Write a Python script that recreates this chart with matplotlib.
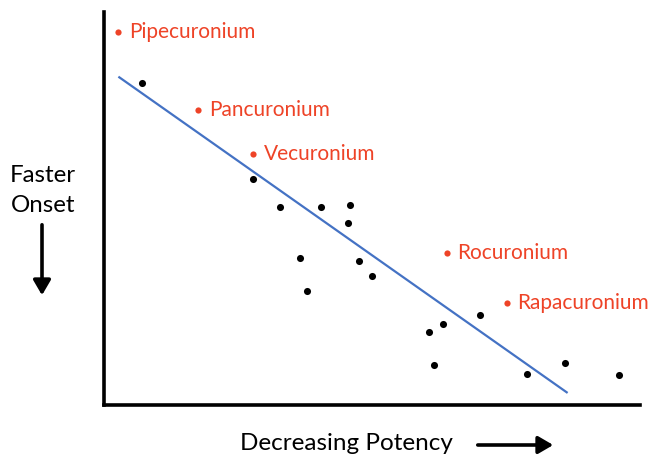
import matplotlib

matplotlib.use("Agg")

import matplotlib.pyplot as plt
from matplotlib.patches import FancyArrowPatch

# values (arbitrary units, origin at the axes corner)
other_x = [37.7, 149.3, 176, 216.5, 246, 243.7, 196, 255, 268, 203, 324.7, 338.7, 376, 330.3, 423, 461, 514.7]
other_y = [321.7, 226, 198.3, 198.3, 200, 182.3, 147.3, 143.7, 129.3, 114, 73, 80.7, 90, 40.3, 31, 42, 30]

drug_names = ["Pipecuronium", "Pancuronium", "Vecuronium", "Rocuronium", "Rapacuronium"]
drug_x = [14.3, 94.3, 149.3, 342.7, 402.7]
drug_y = [372.7, 295, 251, 152.3, 102.3]

trend_x = [15.3, 462.7]
trend_y = [327.7, 12.7]

RED = "#EE4327"
BLUE = "#4472C4"
FONT = "Lato"

fig = plt.figure(figsize=(6.52, 4.58), dpi=100)
ax = fig.add_axes([104 / 652, 53 / 458, 536 / 652, 393 / 458])
ax.set_xlim(0, 536)
ax.set_ylim(0, 393)

ax.plot(trend_x, trend_y, color=BLUE, linewidth=1.6, zorder=2)
ax.scatter(other_x, other_y, s=26, color="black", zorder=3, linewidths=0)
ax.scatter(drug_x, drug_y, s=20, color=RED, zorder=3, linewidths=0)
for name, x, y in zip(drug_names, drug_x, drug_y):
    ax.annotate(name, (x, y), xytext=(7.5, 0), textcoords="offset points",
                color=RED, fontsize=15, family=FONT, va="center", ha="left")

for side in ("top", "right"):
    ax.spines[side].set_visible(False)
for side in ("left", "bottom"):
    ax.spines[side].set_linewidth(2.6)
ax.set_xticks([])
ax.set_yticks([])

# axis captions with arrows, in figure pixels
fig.text(43 / 652, 1 - 175 / 458, "Faster", ha="center", va="center", fontsize=17.3, family=FONT)
fig.text(43 / 652, 1 - 205 / 458, "Onset", ha="center", va="center", fontsize=17.3, family=FONT)
fig.text(346 / 652, 1 - 443 / 458, "Decreasing Potency", ha="center", va="center", fontsize=17.5, family=FONT)

head = "-|>,head_length=0.6,head_width=0.35"
fig.add_artist(FancyArrowPatch(
    (42 / 652, 1 - 222 / 458), (42 / 652, 1 - 298 / 458), transform=fig.transFigure,
    arrowstyle=head, color="black", linewidth=2.6, mutation_scale=15))
fig.add_artist(FancyArrowPatch(
    (475 / 652, 1 - 445 / 458), (556 / 652, 1 - 445 / 458), transform=fig.transFigure,
    arrowstyle=head, color="black", linewidth=2.6, mutation_scale=15))

fig.savefig("out.png", dpi=100)
